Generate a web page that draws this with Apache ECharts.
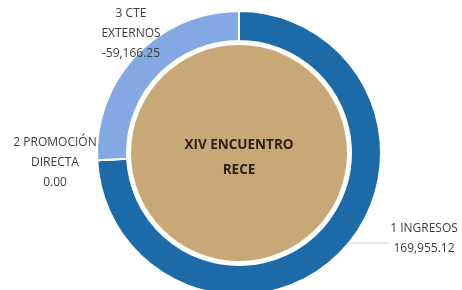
<!DOCTYPE html>
<html>
<head>
<meta charset="utf-8">
<script src="https://cdn.jsdelivr.net/npm/echarts@6/dist/echarts.min.js"></script>
<style>
html,body{margin:0;padding:0;background:#fff;}
#chart{width:462px;height:290px;}
</style>
</head>
<body>
<div id="chart"></div>
<script>
var categories = ['1 INGRESOS', '2 PROMOCIÓN DIRECTA', '3 CTE EXTERNOS'];
var labelLines = [['1 INGRESOS'], ['2 PROMOCIÓN', 'DIRECTA'], ['3 CTE', 'EXTERNOS']];
var values = [169955.12, 0.00, -59166.25];
var centerTitle = ['XIV ENCUENTRO', 'RECE'];

var colors = ['#1c6aa7', '#7ea2e0', '#84a9e2'];
var labelPos = [
  {x: 424, y: 239},
  {x: 55, y: 163},
  {x: 131, y: 34}
];

function fmt(v) {
  var s = Math.abs(v).toFixed(2).split('.');
  s[0] = s[0].replace(/\B(?=(\d{3})+(?!\d))/g, ',');
  return (v < 0 ? '-' : '') + s[0] + '.' + s[1];
}

var pieData = categories.map(function (c, i) {
  return {
    name: c,
    value: Math.abs(values[i]),
    itemStyle: { color: colors[i] },
    label: { formatter: labelLines[i].concat([fmt(values[i])]).join('\n') },
    labelLine: { show: i === 0 }
  };
});

var chart = echarts.init(document.getElementById('chart'));
chart.setOption({
  animation: false,
  series: [
    {
      type: 'pie',
      center: [239, 153],
      radius: [112, 142],
      startAngle: 90,
      clockwise: true,
      minAngle: 0,
      stillShowZeroSum: true,
      avoidLabelOverlap: false,
      itemStyle: { borderColor: '#ffffff', borderWidth: 2 },
      label: {
        show: true,
        position: 'outside',
        color: '#3c3c3c',
        fontSize: 12,
        lineHeight: 20,
        fontFamily: 'Open Sans, sans-serif',
        align: 'center'
      },
      labelLine: {
        show: true,
        lineStyle: { color: '#c3d0dc', width: 1 }
      },
      labelLayout: function (params) {
        var p = labelPos[params.dataIndex];
        var out = { x: p.x, y: p.y, align: 'center', verticalAlign: 'middle' };
        if (params.dataIndex === 0 && params.labelLinePoints) {
          var s = params.labelLinePoints[0];
          out.labelLinePoints = [[s[0] - 12, s[1]], [s[0], 243], [388, 243]];
        }
        return out;
      },
      emphasis: { disabled: true },
      data: pieData
    },
    {
      type: 'pie',
      center: [239, 153],
      radius: [0, 108],
      silent: true,
      itemStyle: { color: '#c9a878' },
      label: {
        show: true,
        position: 'center',
        formatter: centerTitle.join('\n'),
        color: '#2b2116',
        fontWeight: 'bold',
        fontSize: 13.5,
        lineHeight: 25,
        fontFamily: 'Open Sans, sans-serif',
        offset: [0, 5]
      },
      labelLine: { show: false },
      data: [{ name: centerTitle.join(' '), value: 1 }]
    }
  ]
});
</script>
</body>
</html>
